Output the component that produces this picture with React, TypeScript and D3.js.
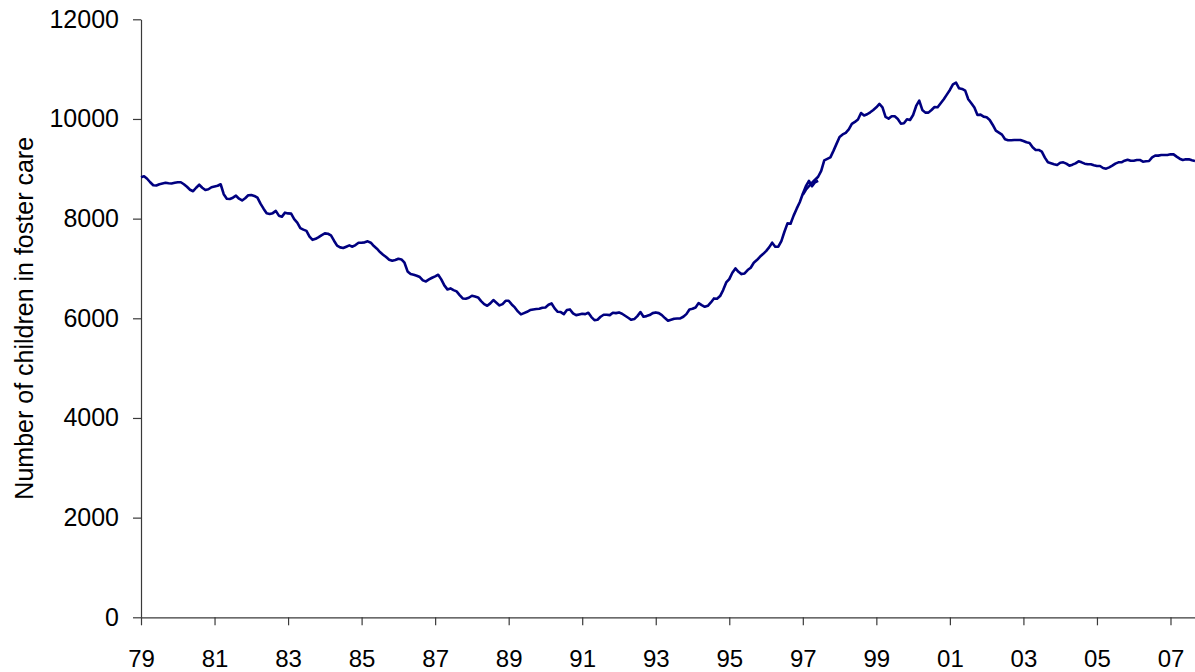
import React, { useEffect, useRef } from "react";
import * as d3 from "d3";

// monthly counts, Jan 1979 onwards (old series runs to mid 1997)
const fc1979 = [8830, 8850, 8800, 8730, 8670, 8665, 8690, 8705, 8720, 8710, 8705, 8720];
const fc1980 = [8730, 8730, 8690, 8640, 8580, 8550, 8620, 8680, 8620, 8575, 8590, 8630];
const fc1981 = [8645, 8660, 8690, 8490, 8400, 8395, 8420, 8460, 8400, 8365, 8410, 8470];
const fc1982 = [8475, 8455, 8420, 8300, 8200, 8110, 8095, 8110, 8155, 8060, 8040, 8120];
const fc1983 = [8105, 8100, 7990, 7920, 7810, 7780, 7755, 7640, 7575, 7595, 7630, 7670];
const fc1984 = [7704, 7697, 7664, 7557, 7457, 7423, 7410, 7437, 7463, 7437, 7470, 7517];
const fc1985 = [7517, 7524, 7544, 7517, 7450, 7396, 7330, 7276, 7229, 7176, 7155, 7169];
const fc1986 = [7196, 7182, 7115, 6941, 6888, 6874, 6854, 6828, 6761, 6740, 6781, 6814];
const fc1987 = [6841, 6874, 6781, 6660, 6580, 6600, 6566, 6540, 6466, 6399, 6392, 6413];
const fc1988 = [6453, 6439, 6419, 6346, 6285, 6252, 6299, 6366, 6312, 6259, 6285, 6352];
const fc1989 = [6352, 6278, 6218, 6138, 6078, 6104, 6131, 6165, 6178, 6185, 6191, 6211];
const fc1990 = [6218, 6272, 6298, 6198, 6131, 6125, 6084, 6165, 6178, 6098, 6064, 6078];
const fc1991 = [6091, 6084, 6111, 6024, 5964, 5970, 6031, 6071, 6071, 6064, 6111, 6104];
const fc1992 = [6118, 6091, 6051, 6011, 5970, 5984, 6044, 6125, 6031, 6044, 6064, 6104];
const fc1993 = [6118, 6104, 6064, 6004, 5950, 5970, 5991, 5997, 5997, 6031, 6084, 6178];
const fc1994 = [6191, 6218, 6305, 6265, 6231, 6251, 6318, 6399, 6392, 6446, 6566, 6720];
const fc1995 = [6787, 6914, 7001, 6934, 6887, 6901, 6968, 7015, 7115, 7168, 7235, 7289];
const fc1996 = [7349, 7423, 7517, 7436, 7436, 7550, 7737, 7905, 7898, 8060, 8200, 8330];
const fc1997old = [8500, 8650, 8760, 8650, 8730, 8760];

// new series, starts Jan 1997
const fc1997 = [8480, 8580, 8650, 8720, 8780, 8840, 8960, 9170, 9200, 9230, 9360, 9500];
const fc1998 = [9640, 9690, 9720, 9790, 9900, 9940, 9990, 10120, 10070, 10094, 10134, 10181];
const fc1999 = [10234, 10301, 10234, 10040, 10007, 10054, 10054, 10000, 9906, 9913, 9993, 9980];
const fc2000 = [10080, 10261, 10368, 10181, 10127, 10127, 10181, 10241, 10234, 10315, 10395, 10489];
const fc2001 = [10582, 10696, 10730, 10616, 10603, 10569, 10395, 10315, 10228, 10080, 10087, 10047];
const fc2002 = [10034, 9980, 9880, 9766, 9726, 9686, 9592, 9572, 9572, 9579, 9579, 9579];
const fc2003 = [9558, 9532, 9518, 9431, 9378, 9378, 9344, 9224, 9130, 9110, 9090, 9076];
const fc2004 = [9123, 9130, 9103, 9063, 9083, 9110, 9150, 9130, 9103, 9090, 9090, 9070];
const fc2005 = [9056, 9056, 9016, 9003, 9029, 9063, 9103, 9130, 9130, 9163, 9183, 9163];
const fc2006 = [9163, 9177, 9177, 9143, 9150, 9157, 9230, 9264, 9264, 9277, 9277, 9277];
const fc2007 = [9290, 9290, 9244, 9203, 9177, 9190, 9190, 9170, 9157];

const oldSeries = [
  ...fc1979, ...fc1980, ...fc1981, ...fc1982, ...fc1983, ...fc1984, ...fc1985,
  ...fc1986, ...fc1987, ...fc1988, ...fc1989, ...fc1990, ...fc1991, ...fc1992,
  ...fc1993, ...fc1994, ...fc1995, ...fc1996, ...fc1997old,
];
const newSeries = [
  ...fc1997, ...fc1998, ...fc1999, ...fc2000, ...fc2001, ...fc2002,
  ...fc2003, ...fc2004, ...fc2005, ...fc2006, ...fc2007,
];
const newStart = 216; // month index of Jan 1997

const xLabels = ["79", "81", "83", "85", "87", "89", "91", "93", "95", "97", "99", "01", "03", "05", "07"];
const yTicks = [0, 2000, 4000, 6000, 8000, 10000, 12000];

const App = () => {
  const chartRef = useRef<SVGSVGElement | null>(null);

  useEffect(() => {
    if (!chartRef.current) return;
    const svg = d3.select(chartRef.current);
    svg.selectAll("*").remove();

    const width = 1195;
    const height = 672;
    const margin = { top: 19.3, right: 0, bottom: 54.7, left: 141 };
    const font = "Arial, 'Liberation Sans', sans-serif";
    const axisColor = "#3a3a3a";
    const fontSize = 25;

    const nMonths = newStart + newSeries.length;
    const x = d3
      .scaleLinear()
      .domain([0, nMonths - 1])
      .range([margin.left, width - margin.right]);
    const y = d3
      .scaleLinear()
      .domain([0, 12000])
      .range([height - margin.bottom, margin.top]);

    // y axis
    const yAxis = svg
      .append("g")
      .attr("transform", `translate(${margin.left},0)`)
      .call(
        d3
          .axisLeft(y)
          .tickValues(yTicks)
          .tickFormat((d) => String(d))
          .tickSize(8)
          .tickSizeOuter(0)
          .tickPadding(14)
      );
    yAxis.selectAll("path, line").attr("stroke", axisColor).attr("stroke-width", 1.2);
    yAxis
      .selectAll("text")
      .attr("font-family", font)
      .attr("font-size", fontSize)
      .attr("fill", "#000");

    // x axis, tick every 24 months
    const xAxis = svg
      .append("g")
      .attr("transform", `translate(0,${height - margin.bottom})`)
      .call(
        d3
          .axisBottom(x)
          .tickValues(xLabels.map((_, i) => i * 24))
          .tickFormat((d, i) => xLabels[i])
          .tickSize(8)
          .tickSizeOuter(0)
          .tickPadding(25)
      );
    xAxis.selectAll("path, line").attr("stroke", axisColor).attr("stroke-width", 1.2);
    xAxis
      .selectAll("text")
      .attr("font-family", font)
      .attr("font-size", 24)
      .attr("fill", "#000");

    // axis title
    svg
      .append("text")
      .attr("transform", `translate(33,${(margin.top + height - margin.bottom) / 2}) rotate(-90)`)
      .attr("text-anchor", "middle")
      .attr("font-family", font)
      .attr("font-size", fontSize)
      .attr("fill", "#000")
      .text("Number of children in foster care");

    const line = d3
      .line<number>()
      .x((d, i) => x(i))
      .y((d) => y(d));
    const lineNew = d3
      .line<number>()
      .x((d, i) => x(i + newStart))
      .y((d) => y(d));

    svg
      .append("path")
      .datum(oldSeries)
      .attr("d", line)
      .attr("fill", "none")
      .attr("stroke", "#000080")
      .attr("stroke-width", 2.6)
      .attr("stroke-linejoin", "round");

    svg
      .append("path")
      .datum(newSeries)
      .attr("d", lineNew)
      .attr("fill", "none")
      .attr("stroke", "#000080")
      .attr("stroke-width", 2.6)
      .attr("stroke-linejoin", "round");
  }, []);

  return (
    <svg
      ref={chartRef}
      width={1195}
      height={672}
      style={{ position: "absolute", left: 0, top: 0, background: "#fff" }}
    ></svg>
  );
};

export default App;
